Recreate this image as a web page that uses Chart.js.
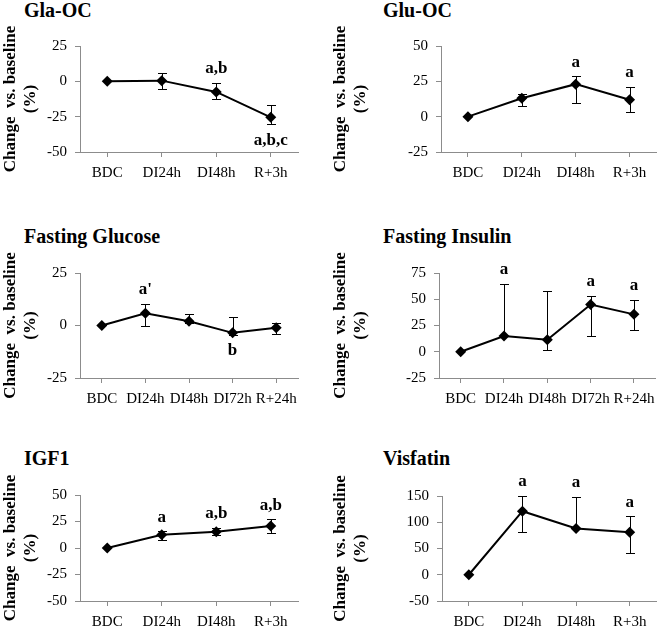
<!DOCTYPE html>
<html>
<head>
<meta charset="utf-8">
<script src="https://cdn.jsdelivr.net/npm/chart.js@4/dist/chart.umd.min.js"></script>
<style>
  body { margin: 0; background: #fff; width: 662px; height: 626px; position: relative; overflow: hidden; }
  .title { position: absolute; font: bold 20px 'Liberation Serif', 'Times New Roman', serif; line-height: 22px; color: #000; white-space: nowrap; }
  .box { position: absolute; }
</style>
</head>
<body>

<div class="title" style="left:24px;top:-1px">Gla-OC</div>
<div class="title" style="left:383px;top:-1px">Glu-OC</div>
<div class="title" style="left:24px;top:225px">Fasting Glucose</div>
<div class="title" style="left:383px;top:225px">Fasting Insulin</div>
<div class="title" style="left:24px;top:447px">IGF1</div>
<div class="title" style="left:383px;top:447px">Visfatin</div>

<div class="box" style="left:0px;top:15px"><canvas id="c1" width="330" height="175"></canvas></div>
<div class="box" style="left:330px;top:15px"><canvas id="c2" width="332" height="175"></canvas></div>
<div class="box" style="left:0px;top:245px"><canvas id="c3" width="330" height="165"></canvas></div>
<div class="box" style="left:330px;top:245px"><canvas id="c4" width="332" height="165"></canvas></div>
<div class="box" style="left:0px;top:470px"><canvas id="c5" width="330" height="156"></canvas></div>
<div class="box" style="left:330px;top:470px"><canvas id="c6" width="332" height="156"></canvas></div>

<script>
// categories
const labels4 = ['BDC', 'DI24h', 'DI48h', 'R+3h'];
const labels5 = ['BDC', 'DI24h', 'DI48h', 'DI72h', 'R+24h'];

// Gla-OC
const glaMean = [0, 0.5, -7.5, -25.5];
const glaHigh = [null, 5.7, -1.2, -17];
const glaLow = [null, -5.3, -12.4, -30.5];
const glaNotes = ['', '', 'a,b', 'a,b,c'];
const glaSide = ['', '', 'up', 'down'];
const glaTicks = [-50, -25, 0, 25];

// Glu-OC
const gluMean = [0, 13, 23, 12];
const gluHigh = [null, 15.8, 28.5, 21.3];
const gluLow = [null, 7.7, 10, 3.5];
const gluNotes = ['', '', 'a', 'a'];
const gluSide = ['', '', 'up', 'up'];
const gluTicks = [-25, 0, 25, 50];

// Fasting Glucose
const glcMean = [0, 5.8, 2, -3.5, -1.1];
const glcHigh = [null, 10.2, 5.7, 4, 1.2];
const glcLow = [null, -0.2, 1, -4.3, -4.1];
const glcNotes = ['', "a'", '', 'b', ''];
const glcSide = ['', 'up', '', 'down', ''];
const glcTicks = [-25, 0, 25];

// Fasting Insulin
const insMean = [0, 15, 11.5, 45, 35.6];
const insHigh = [null, 65, 57.8, 53, 49.4];
const insLow = [null, null, 1.9, 15.3, 20.3];
const insNotes = ['', 'a', '', 'a', 'a'];
const insSide = ['', 'up', '', 'up', 'up'];
const insTicks = [-25, 0, 25, 50, 75];

// IGF1
const igfMean = [0, 12.5, 15.4, 20.8];
const igfHigh = [null, 15.7, 18.9, 27.2];
const igfLow = [null, 8, 11.9, 13.8];
const igfNotes = ['', 'a', 'a,b', 'a,b'];
const igfSide = ['', 'up', 'up', 'up'];
const igfTicks = [-50, -25, 0, 25, 50];

// Visfatin
const visMean = [0, 121, 88, 81];
const visHigh = [null, 150, 148, 111.5];
const visLow = [null, 81, null, 41.5];
const visNotes = ['', 'a', 'a', 'a'];
const visSide = ['', 'up', 'up', 'up'];
const visTicks = [-50, 0, 50, 100, 150];

const serif = "'Liberation Serif', 'Times New Roman', serif";
const axisGrey = '#8c8c8c';

function errorPlugin(high, low, notes, side) {
  return {
    id: 'errorBars',
    afterDatasetsDraw(chart) {
      const ctx = chart.ctx;
      const xs = chart.scales.x;
      const ys = chart.scales.y;
      const mean = chart.data.datasets[0].data;
      ctx.save();
      ctx.strokeStyle = '#000';
      ctx.lineWidth = 1;
      mean.forEach((m, i) => {
        const px = Math.round(xs.getPixelForValue(i)) + 0.5;
        const pm = ys.getPixelForValue(m);
        const ends = [];
        if (high[i] != null) ends.push(ys.getPixelForValue(high[i]));
        if (low[i] != null) ends.push(ys.getPixelForValue(low[i]));
        ends.forEach(py => {
          const yy = Math.round(py) + 0.5;
          ctx.beginPath();
          ctx.moveTo(px, pm);
          ctx.lineTo(px, yy);
          ctx.moveTo(px - 4.5, yy);
          ctx.lineTo(px + 4.5, yy);
          ctx.stroke();
        });
      });
      ctx.fillStyle = '#000';
      ctx.font = 'bold 17px ' + serif;
      ctx.textAlign = 'center';
      ctx.textBaseline = 'middle';
      notes.forEach((t, i) => {
        if (!t) return;
        const px = xs.getPixelForValue(i);
        if (side[i] === 'up') {
          const top = high[i] != null ? high[i] : mean[i];
          ctx.fillText(t, px, ys.getPixelForValue(top) - 14);
        } else {
          const bot = low[i] != null ? low[i] : mean[i];
          ctx.fillText(t, px, ys.getPixelForValue(bot) + 16);
        }
      });
      ctx.restore();
    }
  };
}

function makePanel(id, box, area, labels, mean, high, low, notes, side, ticks) {
  const yWidth = area.left - box.left;
  const xHeight = box.top + box.height - area.bottom;
  new Chart(document.getElementById(id), {
    type: 'line',
    data: {
      labels: labels,
      datasets: [{
        data: mean,
        borderColor: '#000',
        borderWidth: 2,
        backgroundColor: '#000',
        pointStyle: 'rectRot',
        pointRadius: 5.5,
        pointBackgroundColor: '#000',
        pointBorderWidth: 0,
        tension: 0,
        fill: false
      }]
    },
    options: {
      responsive: false,
      animation: false,
      layout: {
        padding: {
          top: area.top - box.top,
          right: box.left + box.width - area.right,
          left: 0,
          bottom: 0
        }
      },
      plugins: {
        legend: { display: false },
        tooltip: { enabled: false }
      },
      scales: {
        x: {
          type: 'category',
          offset: true,
          grid: { offset: false, drawOnChartArea: false, tickLength: 5, color: axisGrey },
          border: { color: axisGrey, width: 1 },
          ticks: { color: '#000', font: { family: serif, size: 15 }, padding: 7, maxRotation: 0, autoSkip: false },
          afterFit(scale) { scale.height = xHeight; }
        },
        y: {
          min: ticks[0],
          max: ticks[ticks.length - 1],
          grid: { drawOnChartArea: false, tickLength: 5, color: axisGrey },
          border: { color: axisGrey, width: 1 },
          ticks: { stepSize: ticks[1] - ticks[0], color: '#000', font: { family: serif, size: 15 }, padding: 8 },
          title: {
            display: true,
            text: ['Change  vs. baseline', '(%)'],
            color: '#000',
            font: { family: serif, size: 17, weight: 'bold', lineHeight: 1.2 },
            padding: { top: 0, bottom: 0 }
          },
          afterFit(scale) { scale.width = yWidth; }
        }
      }
    },
    plugins: [errorPlugin(high, low, notes, side)]
  });
}

makePanel('c1', { left: 0, top: 15, width: 330, height: 175 }, { left: 80, top: 46, right: 298, bottom: 152 },
  labels4, glaMean, glaHigh, glaLow, glaNotes, glaSide, glaTicks);
makePanel('c2', { left: 330, top: 15, width: 332, height: 175 }, { left: 441, top: 46, right: 659, bottom: 152 },
  labels4, gluMean, gluHigh, gluLow, gluNotes, gluSide, gluTicks);
makePanel('c3', { left: 0, top: 245, width: 330, height: 165 }, { left: 80, top: 273, right: 298, bottom: 378 },
  labels5, glcMean, glcHigh, glcLow, glcNotes, glcSide, glcTicks);
makePanel('c4', { left: 330, top: 245, width: 332, height: 165 }, { left: 439, top: 273, right: 658, bottom: 378 },
  labels5, insMean, insHigh, insLow, insNotes, insSide, insTicks);
makePanel('c5', { left: 0, top: 470, width: 330, height: 156 }, { left: 80, top: 495, right: 298, bottom: 601 },
  labels4, igfMean, igfHigh, igfLow, igfNotes, igfSide, igfTicks);
makePanel('c6', { left: 330, top: 470, width: 332, height: 156 }, { left: 442, top: 496, right: 658, bottom: 601 },
  labels4, visMean, visHigh, visLow, visNotes, visSide, visTicks);
</script>
</body>
</html>
